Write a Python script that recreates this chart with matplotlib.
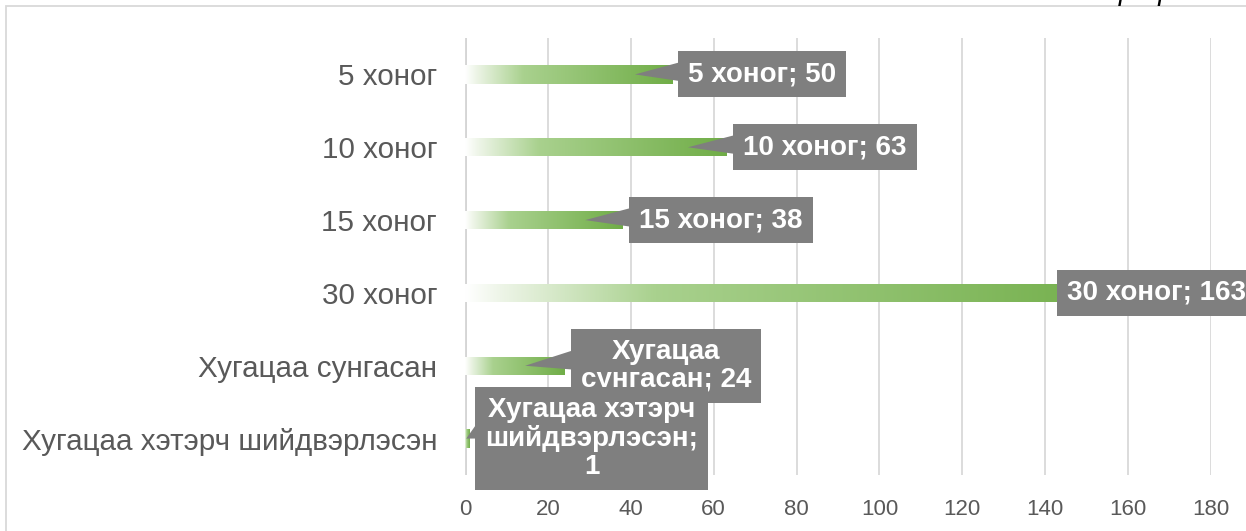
import numpy as np
import matplotlib.pyplot as plt
from matplotlib.colors import LinearSegmentedColormap
from matplotlib.patches import Rectangle

plt.rcParams['font.family'] = ['Liberation Sans', 'DejaVu Sans']

categories = ["5 хоног", "10 хоног", "15 хоног", "30 хоног",
              "Хугацаа сунгасан", "Хугацаа хэтэрч шийдвэрлэсэн"]
values = [50, 63, 38, 163, 24, 1]
labels = ["5 хоног; 50", "10 хоног; 63", "15 хоног; 38", "30 хоног; 163",
          "Хугацаа\nсунгасан; 24", "Хугацаа хэтэрч\nшийдвэрлэсэн;\n1"]
xticks = [0, 20, 40, 60, 80, 100, 120, 140, 160, 180]

# callout placement: box centre (x in data units, y offset) and pointer tip
box_x = [71.7, 86.9, 61.8, 166.8, 48.5, 30.6]
box_dy = [0, 0, 0, 0, 0, 0]
tip_x = [41, 53.8, 29, None, 14.5, 0.3]

W, H = 1246, 531
fig = plt.figure(figsize=(W / 100, H / 100), dpi=100)
fig.patches.append(Rectangle((5.5 / W, -0.05), 1.2, (H - 6) / H + 0.05,
                             transform=fig.transFigure, fill=False,
                             ec='#D9D9D9', lw=1.3))
fig.text(1105 / W, 1.0, "График", style='italic', fontsize=20,
         va='baseline', ha='left', color='black')

ax = fig.add_axes([465 / W, (H - 475) / H, (1211 - 465) / W, (475 - 38) / H])
ax.set_facecolor('none')

green = LinearSegmentedColormap.from_list(
    'g', [(0, '#FFFFFF'), (0.05, '#EEF5E8'), (0.28, '#A9D18E'), (1, '#70AD47')])
grad = np.linspace(0, 1, 256).reshape(1, -1)

y = np.arange(len(categories))
bars = ax.barh(y, values, height=0.25, color='none', zorder=2)
for b in bars:
    x0, y0, w, h = b.get_x(), b.get_y(), b.get_width(), b.get_height()
    im = ax.imshow(grad, cmap=green, aspect='auto', zorder=2,
                   extent=[x0, x0 + w, y0 + h, y0], interpolation='bicubic')
    im.set_clip_path(b)

ax.set_xlim(0, 180)
ax.set_ylim(len(categories) - 0.5, -0.5)
ax.set_aspect('auto')
ax.set_xticks(xticks)
ax.set_yticks(y)
ax.set_yticklabels(categories, fontsize=21.3, color='#595959')
ax.tick_params(axis='x', labelsize=16, labelcolor='#595959', length=0, pad=17)
ax.tick_params(axis='y', length=0, pad=20)
ax.grid(axis='x', color='#D9D9D9', lw=1.3, zorder=0)
ax.axvline(0, color='#D0D0D0', lw=2, zorder=1)
for s in ax.spines.values():
    s.set_visible(False)

gray = '#7F7F7F'
box = dict(boxstyle='square,pad=0.36', fc=gray, ec='none')
for i in range(len(values)):
    if tip_x[i] is None:
        ax.text(box_x[i], y[i] + box_dy[i], labels[i], ha='center', va='center',
                fontsize=20, fontweight='bold', color='white', zorder=5,
                linespacing=1.1, bbox=box)
        continue
    ax.annotate(labels[i], xy=(tip_x[i], y[i]),
                xytext=(box_x[i], y[i] + box_dy[i]), ha='center', va='center',
                fontsize=20, fontweight='bold', color='white', zorder=5,
                linespacing=1.1, bbox=box,
                arrowprops=dict(arrowstyle='wedge,tail_width=0.8,shrink_factor=0.5',
                                fc=gray, ec='none', relpos=(0, 0.62),
                                patchA=None, shrinkA=0, shrinkB=0))

fig.savefig('out.png', dpi=100)
